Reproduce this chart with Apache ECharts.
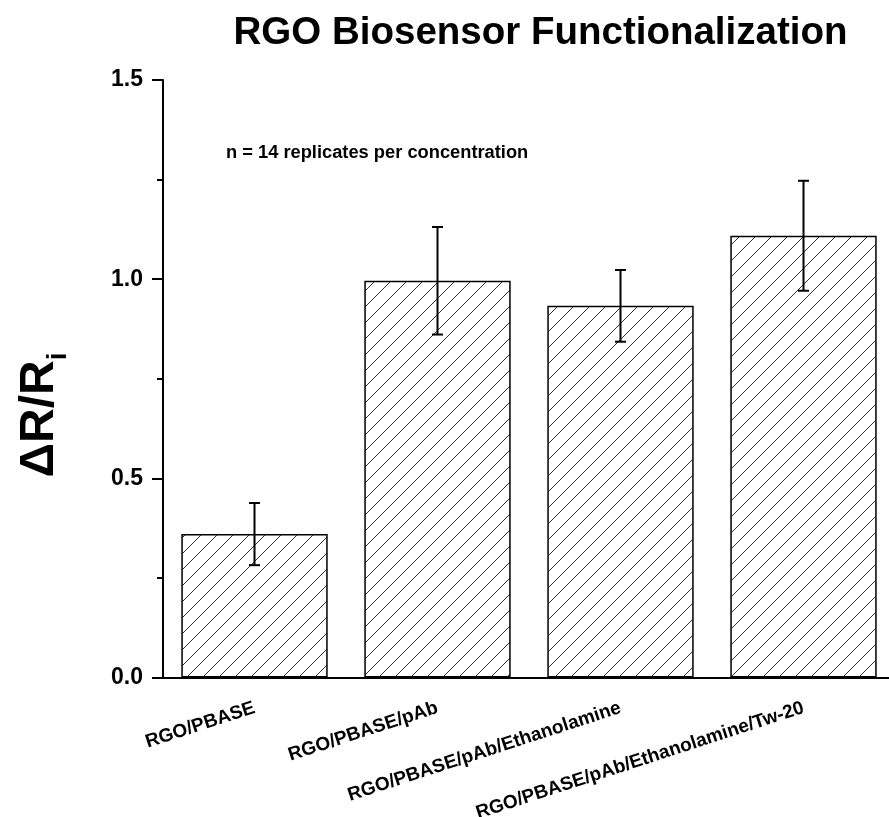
<!DOCTYPE html>
<html>
<head>
<meta charset="utf-8">
<script src="https://cdn.jsdelivr.net/npm/echarts@6/dist/echarts.min.js"></script>
<style>
html,body{margin:0;padding:0;background:#fff;}
#chart{width:889px;height:817px;}
</style>
</head>
<body>
<div id="chart"></div>
<script>
const categories = ['RGO/PBASE', 'RGO/PBASE/pAb', 'RGO/PBASE/pAb/Ethanolamine', 'RGO/PBASE/pAb/Ethanolamine/Tw-20'];
const means = [0.36, 0.996, 0.933, 1.109];
const errors = [0.078, 0.135, 0.09, 0.138];
const yMin = 0, yMax = 1.5, yInterval = 0.5;
const titleText = 'RGO Biosensor Functionalization';
const noteText = 'n = 14 replicates per concentration';

const FONT = '"Liberation Sans", Arial, sans-serif';

// hatch pattern
const pc = document.createElement('canvas');
pc.width = 16; pc.height = 16;
const g = pc.getContext('2d');
g.fillStyle = '#fff'; g.fillRect(0, 0, 16, 16);
g.strokeStyle = '#333'; g.lineWidth = 1;
g.beginPath();
g.moveTo(-2, 18); g.lineTo(18, -2);
g.moveTo(-2, 2); g.lineTo(2, -2);
g.moveTo(14, 18); g.lineTo(18, 14);
g.stroke();

const chart = echarts.init(document.getElementById('chart'), null, {renderer: 'canvas'});

const errData = categories.map((c, i) => [i, means[i], errors[i]]);

const option = {
  animation: false,
  backgroundColor: '#fff',
  grid: {left: 163, top: 80, width: 732, height: 597.5, containLabel: false, outerBoundsMode: 'none'},
  xAxis: [{
    type: 'category',
    data: categories,
    axisLine: {lineStyle: {color: '#000', width: 2}},
    axisTick: {alignWithLabel: true, length: 11, lineStyle: {color: '#000', width: 2}},
    axisLabel: {rotate: 18, margin: 30, fontFamily: FONT, fontWeight: 'bold', fontSize: 19, color: '#000', interval: 0},
    splitLine: {show: false}
  }, {
    type: 'category',
    data: categories,
    position: 'bottom',
    axisLine: {show: false},
    axisTick: {length: 6, lineStyle: {color: '#000', width: 2}},
    axisLabel: {show: false},
    splitLine: {show: false}
  }],
  yAxis: {
    type: 'value',
    min: yMin, max: yMax, interval: yInterval,
    axisLine: {show: true, lineStyle: {color: '#000', width: 2}},
    axisTick: {show: true, length: 11, lineStyle: {color: '#000', width: 2}},
    minorTick: {show: true, splitNumber: 2, length: 6, lineStyle: {color: '#000', width: 2}},
    axisLabel: {margin: 20, fontFamily: FONT, fontWeight: 'bold', fontSize: 23, color: '#000', formatter: v => v.toFixed(1)},
    splitLine: {show: false}
  },
  series: [{
    type: 'bar',
    data: means,
    barWidth: '80%',
    itemStyle: {color: {image: pc, repeat: 'repeat'}, borderColor: '#000', borderWidth: 1.5},
    z: 2
  }, {
    type: 'custom',
    data: errData,
    z: 5,
    renderItem: function (params, api) {
      const i = api.value(0), m = api.value(1), e = api.value(2);
      const hi = api.coord([i, m + e]);
      const lo = api.coord([i, m - e]);
      const cw = 5.5;
      const st = {stroke: '#000', lineWidth: 2};
      return {
        type: 'group',
        children: [
          {type: 'line', shape: {x1: hi[0], y1: hi[1], x2: lo[0], y2: lo[1]}, style: st},
          {type: 'line', shape: {x1: hi[0] - cw, y1: hi[1], x2: hi[0] + cw, y2: hi[1]}, style: st},
          {type: 'line', shape: {x1: lo[0] - cw, y1: lo[1], x2: lo[0] + cw, y2: lo[1]}, style: st}
        ]
      };
    }
  }],
  graphic: [{
    type: 'text',
    style: {x: 540.5, y: 33, text: titleText, textAlign: 'center', textVerticalAlign: 'middle',
      font: 'bold 38.5px ' + FONT, fill: '#000'}
  }, {
    type: 'text',
    style: {x: 226, y: 153, text: noteText, textAlign: 'left', textVerticalAlign: 'middle',
      font: 'bold 18.3px ' + FONT, fill: '#000'}
  }, {
    type: 'text',
    x: 40, y: 415, rotation: Math.PI / 2,
    style: {
      text: '{a|ΔR/R}{b|i}', textAlign: 'center', textVerticalAlign: 'middle',
      rich: {
        a: {fontFamily: FONT, fontWeight: 'bold', fontSize: 48, fill: '#000', verticalAlign: 'bottom'},
        b: {fontFamily: FONT, fontWeight: 'bold', fontSize: 28, fill: '#000', verticalAlign: 'bottom', padding: [0, 0, -8, 0]}
      }
    }
  }]
};
chart.setOption(option);
</script>
</body>
</html>
